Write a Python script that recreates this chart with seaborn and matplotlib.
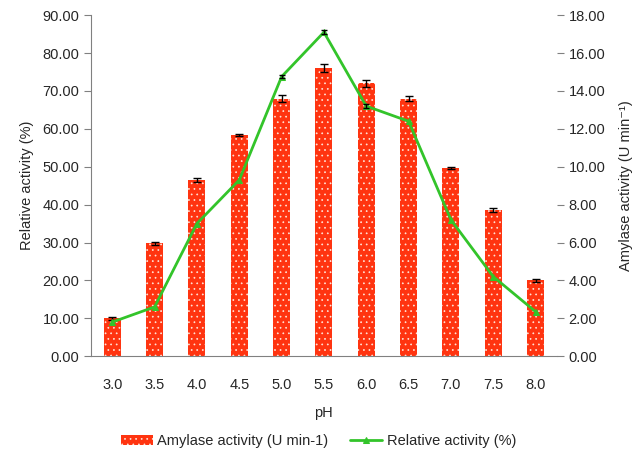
import numpy as np
import pandas as pd
import matplotlib
matplotlib.use("Agg")
import matplotlib.pyplot as plt
import seaborn as sns

# values
ph_labels = ['3.0', '3.5', '4.0', '4.5', '5.0', '5.5', '6.0', '6.5', '7.0', '7.5', '8.0']
amylase = [10.0, 29.8, 46.5, 58.3, 68.0, 76.0, 72.0, 68.0, 49.6, 38.6, 20.0]
amylase_err = [0.4, 0.4, 0.6, 0.3, 0.8, 1.0, 1.0, 0.7, 0.3, 0.6, 0.3]
relative = [1.8, 2.6, 7.0, 9.3, 14.75, 17.1, 13.2, 12.4, 7.2, 4.2, 2.35]
relative_err = [0.0, 0.0, 0.0, 0.0, 0.08, 0.1, 0.12, 0.0, 0.0, 0.0, 0.0]

bar_color = '#FF3410'
line_color = '#33C42A'
grey = '#808080'

sns.set_style('white')
plt.rcParams['font.family'] = ['Liberation Sans', 'DejaVu Sans']
plt.rcParams['font.size'] = 10.5
plt.rcParams['hatch.linewidth'] = 0.5

df = pd.DataFrame({'pH': ph_labels, 'amylase': amylase, 'relative': relative})
pos = np.arange(len(ph_labels))

fig = plt.figure(figsize=(6.37, 4.59), dpi=100)
ax = fig.add_axes([0.143, 0.224, 0.731, 0.743])
ax2 = ax.twinx()

sns.barplot(data=df, x='pH', y='amylase', color=bar_color, width=0.4,
            saturation=1, edgecolor='#FFE6DA', linewidth=0, hatch='...', ax=ax,
            label='Amylase activity (U min-1)')
ax.errorbar(pos, amylase, yerr=amylase_err, fmt='none', ecolor='black',
            elinewidth=1, capsize=3, capthick=1, zorder=5)

sns.lineplot(x=pos, y=df['relative'], color=line_color, lw=2, marker='^',
             markersize=5, markeredgecolor=line_color, ax=ax2,
             label='Relative activity (%)')
# only a few line points carry visible error bars
rel_err = np.array(relative_err)
has_err = rel_err > 0
ax2.errorbar(pos[has_err], np.array(relative)[has_err], yerr=rel_err[has_err],
             fmt='none', ecolor='black', elinewidth=1, capsize=2.5, capthick=1)

ax.set_xlim(-0.5, len(ph_labels) - 0.5)
ax.set_ylim(0, 90)
ax.set_yticks(np.arange(0, 91, 10))
ax.set_yticklabels([f'{v:.2f}' for v in np.arange(0, 91, 10)])
ax2.set_ylim(0, 18)
ax2.set_yticks(np.arange(0, 19, 2))
ax2.set_yticklabels([f'{v:.2f}' for v in np.arange(0, 19, 2)])

# tick marks sit between categories
ax.set_xticks(np.arange(-0.5, len(ph_labels), 1), minor=True)
ax.tick_params(axis='x', which='major', length=0, pad=16)
ax.tick_params(axis='x', which='minor', length=5, color=grey, direction='out')
ax.tick_params(axis='y', length=5, color=grey, direction='out', left=True)
ax2.tick_params(axis='y', length=5, color=grey, direction='out', right=True)

for a in (ax, ax2):
    for s in ('top', 'right', 'left', 'bottom'):
        a.spines[s].set_visible(False)
ax.spines['left'].set_visible(True)
ax.spines['bottom'].set_visible(True)
ax.spines['left'].set_color(grey)
ax.spines['bottom'].set_color(grey)

ax.set_xlabel('pH', labelpad=10)
ax.set_ylabel('Relative activity (%)', labelpad=6)
ax2.set_ylabel('Amylase activity (U min\u207b\u00b9)', labelpad=10)

if ax.legend_:
    ax.legend_.remove()
if ax2.legend_:
    ax2.legend_.remove()
h1, l1 = ax.get_legend_handles_labels()
h2, l2 = ax2.get_legend_handles_labels()
fig.legend(h1[:1] + h2[:1], l1[:1] + l2[:1], loc='lower center',
           bbox_to_anchor=(0.5, -0.005), ncol=2, frameon=False,
           handlelength=2.2, columnspacing=1.5, handletextpad=0.3)

fig.savefig('out.png', dpi=100)
